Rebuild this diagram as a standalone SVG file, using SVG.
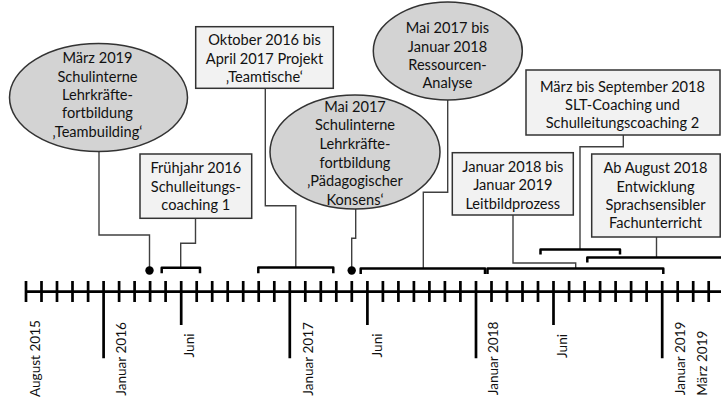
<svg xmlns="http://www.w3.org/2000/svg" width="721" height="398" viewBox="0 0 721 398">
<style>
text{font-family:Lato,"Open Sans","DejaVu Sans",sans-serif;font-size:14.6px;fill:#111}
.c text{text-anchor:middle}
.box{fill:#f2f2f2;stroke:#333;stroke-width:1.5}
.ell{fill:#d3d3d3;stroke:#333;stroke-width:1.5}
.con{fill:none;stroke:#404040;stroke-width:1.4}
.br{fill:none;stroke:#000;stroke-width:2.5;stroke-linejoin:round}
.ax{fill:none;stroke:#000;stroke-width:2.7}
.lab{text-anchor:end;font-size:13.6px}
</style>
<rect width="721" height="398" fill="#fff"/>
<g id="axis">
<path class="ax" d="M25,291.7H721"/>
<path class="ax" d="M26,281V302M41.5,281V302M57,281V302M72.5,281V302M88.1,281V302M103.6,281V358.3M119.1,281V302M134.6,281V302M150.1,281V302M165.6,281V302M181.2,281V325M196.7,281V302M212.2,281V302M227.7,281V302M243.2,281V302M258.7,281V302M274.3,281V302M289.8,281V358.3M305.3,281V302M320.8,281V302M336.3,281V302M351.8,281V302M367.4,281V325M382.9,281V302M398.4,281V302M413.9,281V302M429.4,281V302M444.9,281V302M460.4,281V302M476,281V358.3M491.5,281V302M507,281V302M522.5,281V302M538,281V302M553.5,281V325M569.1,281V302M584.6,281V302M600.1,281V302M615.6,281V302M631.1,281V302M646.6,281V302M662.2,281V358.3M677.7,281V302M693.2,281V302M708.7,281V302"/>
<text class="lab" transform="translate(40,320) rotate(-90)">August 2015</text>
<text class="lab" transform="translate(126,322) rotate(-90)">Januar 2016</text>
<text class="lab" transform="translate(194,333.5) rotate(-90)">Juni</text>
<text class="lab" transform="translate(313,322) rotate(-90)">Januar 2017</text>
<text class="lab" transform="translate(381.7,333.5) rotate(-90)">Juni</text>
<text class="lab" transform="translate(498.3,321.5) rotate(-90)">Januar 2018</text>
<text class="lab" transform="translate(567,334) rotate(-90)">Juni</text>
<text class="lab" transform="translate(685,321.5) rotate(-90)">Januar 2019</text>
<text class="lab" transform="translate(706.7,330.5) rotate(-90)">März 2019</text>
</g>
<g id="connectors">
<path class="con" d="M99,151.7V235H149.5V267"/>
<path class="con" d="M195.5,218.3V243.3H180.7V267.7"/>
<path class="con" d="M265.3,88.3V205.8H295.8V267.5"/>
<path class="con" d="M355.7,209V238.3H351.7V267"/>
<path class="con" d="M447.7,100V192.3H423.3V268.5"/>
<path class="con" d="M513,215V263H575.7V268.5"/>
<path class="con" d="M623.3,135V146.7H580V249.5"/>
<path class="con" d="M656.5,237V257.5"/>
<path class="br" d="M161.7,273.3V267.7H200V273.3"/>
<path class="br" d="M258.3,273.3V267.5H333.3V273.3"/>
<path class="br" d="M360.7,274V268.5H485V274"/>
<path class="br" d="M487.5,274V268.5H663.3V274"/>
<path class="br" d="M540.5,254.5V249.5H620V254.5"/>
<path class="br" d="M587.3,262.5V257.5H722"/>
<circle cx="149.5" cy="270.5" r="4.2" fill="#000"/>
<circle cx="351.7" cy="270.5" r="4.2" fill="#000"/>
</g>
<g id="n-maerz2019" class="c">
<ellipse class="ell" cx="98.5" cy="97.5" rx="89" ry="54"/>
<text x="97.5" y="63.3">März 2019</text>
<text x="97.5" y="81.7">Schulinterne</text>
<text x="97.5" y="100">Lehrkräfte-</text>
<text x="97.5" y="118.3">fortbildung</text>
<text x="97.5" y="136.7">‚Teambuilding‘</text>
</g>
<g id="n-fruehjahr2016" class="c">
<rect class="box" x="140" y="154" width="111.7" height="64.3"/>
<text x="195.8" y="173.3">Frühjahr 2016</text>
<text x="195.8" y="191.7">Schulleitungs-</text>
<text x="195.8" y="210">coaching 1</text>
</g>
<g id="n-teamtische" class="c">
<rect class="box" x="195.7" y="26.7" width="137.6" height="61.6"/>
<text x="264.5" y="45">Oktober 2016 bis</text>
<text x="264.5" y="63.5">April 2017 Projekt</text>
<text x="264.5" y="82">‚Teamtische‘</text>
</g>
<g id="n-mai2017" class="c">
<ellipse class="ell" cx="355" cy="152" rx="85" ry="57"/>
<text x="355" y="111.7">Mai 2017</text>
<text x="355" y="130.3">Schulinterne</text>
<text x="355" y="149">Lehrkräfte-</text>
<text x="355" y="167.7">fortbildung</text>
<text x="355" y="186.3">‚Pädagogischer</text>
<text x="355" y="205">Konsens‘</text>
</g>
<g id="n-ressourcen" class="c">
<ellipse class="ell" cx="447.8" cy="51" rx="74.5" ry="49"/>
<text x="447.5" y="33.3">Mai 2017 bis</text>
<text x="447.5" y="51.7">Januar 2018</text>
<text x="447.5" y="70">Ressourcen-</text>
<text x="447.5" y="88.3">Analyse</text>
</g>
<g id="n-leitbild" class="c">
<rect class="box" x="452.3" y="152.7" width="121" height="62.3"/>
<text x="512.8" y="171.7">Januar 2018 bis</text>
<text x="512.8" y="190.3">Januar 2019</text>
<text x="512.8" y="209">Leitbildprozess</text>
</g>
<g id="n-slt" class="c">
<rect class="box" x="526" y="70" width="194" height="65"/>
<text x="622.5" y="91.7">März bis September 2018</text>
<text x="622.5" y="110">SLT-Coaching und</text>
<text x="622.5" y="128.3">Schulleitungscoaching 2</text>
</g>
<g id="n-sprachsensibel" class="c">
<rect class="box" x="591.7" y="154" width="128.5" height="83"/>
<text x="655.5" y="173.3">Ab August 2018</text>
<text x="655.5" y="191.7">Entwicklung</text>
<text x="655.5" y="210">Sprachsensibler</text>
<text x="655.5" y="228.3">Fachunterricht</text>
</g>
</svg>
